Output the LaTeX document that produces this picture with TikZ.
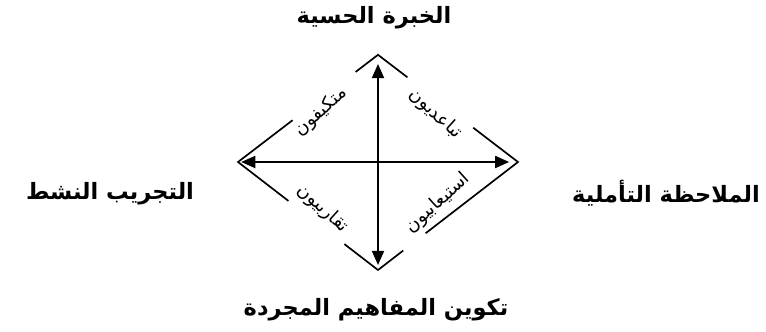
\documentclass[tikz,border=0pt]{standalone}
\usepackage{fontspec}
\newfontfamily\arabicfont[Script=Arabic]{DejaVu Sans}
\TeXXeTstate=1
\usetikzlibrary{arrows.meta,calc}

\begin{document}
\begin{tikzpicture}[>={Triangle[length=10pt,width=8.5pt]},
  side/.style={line width=1.2pt},
  axis/.style={line width=1.4pt,<->},
  pole/.style={font=\arabicfont\bfseries\fontsize{16}{19}\selectfont,inner sep=0pt},
  kind/.style={font=\arabicfont\fontsize{13}{15}\selectfont,inner sep=0pt}]
\useasboundingbox (-9.45,-4.225) rectangle (9.7,4.05);
% corners of the diamond
\coordinate (T) at (0,2.68);
\coordinate (R) at (3.5,0);
\coordinate (B) at (0,-2.7);
\coordinate (L) at (-3.5,0);
% ends of the two axes
\coordinate (aw) at (-3.42,0);
\coordinate (ae) at (3.28,0);
\coordinate (an) at (0,2.45);
\coordinate (as) at (0,-2.575);
% sides, broken where the labels sit
\draw[side] ($(L)!.84!(T)$) -- (T) -- ($(T)!.21!(R)$);
\draw[side] ($(T)!.68!(R)$) -- (R) -- ($(R)!.66!(B)$);
\draw[side] ($(R)!.82!(B)$) -- (B) -- ($(L)!.76!(B)$);
\draw[side] ($(L)!.36!(B)$) -- (L) -- ($(L)!.39!(T)$);
\draw[axis] (aw) -- (ae);
\draw[axis] (an) -- (as);
% the four poles
\node[pole] (sens) at (-0.1,3.6) {\beginR الخبرة الحسية\endR};
\node[pole] (watch) at (7.2,-0.78) {\beginR الملاحظة التأملية\endR};
\node[pole] (think) at (-0.05,-3.7) {\beginR تكوين المفاهيم المجردة\endR};
\node[pole] (act) at (-6.7,-0.78) {\beginR التجريب النشط\endR};
% the four styles
\node[kind,rotate=42] (acc) at (-1.43,1.25) {\beginR متكيفون\endR};
\node[kind,rotate=-42] (div) at (1.43,1.2) {\beginR تباعديون\endR};
\node[kind,rotate=-42] (con) at (-1.38,-1.17) {\beginR تقاربيون\endR};
\node[kind,rotate=42] (ass) at (1.5,-1.03) {\beginR استيعابيون\endR};
\end{tikzpicture}
\end{document}
